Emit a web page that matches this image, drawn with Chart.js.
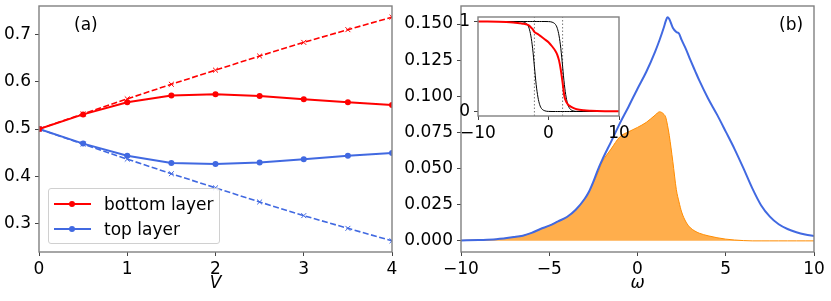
<!DOCTYPE html>
<html>
<head>
<meta charset="utf-8">
<script src="https://cdn.jsdelivr.net/npm/chart.js@4.4.0/dist/chart.umd.min.js"></script>
<style>
  body { margin: 0; background: #fff; width: 831px; height: 301px; overflow: hidden; position: relative; font-family: "DejaVu Sans", sans-serif; }
  canvas { position: absolute; }
  #chartA { left: 0; top: 0; }
  #chartB { left: 405px; top: 0; }
  #inset { left: 455px; top: 10px; }
  .tag { position: absolute; font-size: 17px; line-height: 20px; color: #000; }
  #legendA { position: absolute; left: 48px; top: 188px; width: 170px; height: 54px; border: 1px solid #d0d0d0; border-radius: 3px; background: rgba(255,255,255,0.8); }
  .row { position: absolute; left: 0; height: 24px; width: 170px; }
  .row .line { position: absolute; left: 5px; top: 11px; width: 37px; height: 2px; }
  .row .dot { position: absolute; left: 20px; top: 9px; width: 6px; height: 6px; border-radius: 50%; }
  .row .txt { position: absolute; left: 55px; top: 2px; font-size: 17px; line-height: 20px; }
</style>
</head>
<body>
<canvas id="chartA" width="405" height="301"></canvas>
<canvas id="chartB" width="426" height="301"></canvas>
<canvas id="inset" width="180" height="135"></canvas>
<div class="tag" style="left:74px; top:14px;">(a)</div>
<div class="tag" style="left:779px; top:14px;">(b)</div>
<div id="legendA"></div>
<script>
// (a) occupation vs V
const vValues = [0, 0.5, 1, 1.5, 2, 2.5, 3, 3.5, 4];
const bottomLayer = [0.5, 0.531, 0.557, 0.571, 0.574, 0.570, 0.563, 0.557, 0.551];
const topLayer = [0.5, 0.469, 0.443, 0.428, 0.4255, 0.429, 0.436, 0.443, 0.449];
const bottomRef = [0.5, 0.532, 0.564, 0.595, 0.625, 0.655, 0.684, 0.711, 0.7375];
const topRef = [0.5, 0.468, 0.436, 0.405, 0.375, 0.345, 0.316, 0.289, 0.2625];
const ticksAx = [0, 1, 2, 3, 4];
const ticksAy = [0.3, 0.4, 0.5, 0.6, 0.7];

// (b) spectral functions
const omega = [-10, -9, -8, -7, -6.5, -6, -5.5, -5, -4.5, -4, -3.5, -3, -2.75, -2.5, -2.25, -2,
  -1.5, -1, -0.5, 0, 0.5, 1, 1.25, 1.5, 1.6, 1.7, 1.8, 2, 2.2, 2.35, 2.5, 2.75,
  3, 3.25, 3.5, 4, 4.5, 5, 5.5, 6, 6.5, 7, 7.5, 8, 8.5, 9, 9.5, 10];
const totalDos = [0.0003, 0.0006, 0.0011, 0.0026, 0.0036, 0.0055, 0.0082, 0.0105, 0.0135, 0.0165, 0.0215, 0.029, 0.034, 0.041, 0.049, 0.056,
  0.0685, 0.0813, 0.093, 0.1053, 0.117, 0.131, 0.139, 0.148, 0.152, 0.1548, 0.1535, 0.1475, 0.1445, 0.1435, 0.139, 0.1325,
  0.125, 0.118, 0.111, 0.0985, 0.0875, 0.0756, 0.0635, 0.0503, 0.0365, 0.0247, 0.0168, 0.0115, 0.0082, 0.006, 0.0044, 0.0033];
const occupiedDos = [0.0003, 0.0006, 0.0011, 0.0026, 0.0036, 0.0055, 0.0082, 0.0105, 0.0135, 0.0165, 0.0215, 0.029, 0.034, 0.040, 0.047, 0.0545,
  0.0635, 0.072, 0.0755, 0.0785, 0.082, 0.087, 0.0893, 0.0875, 0.0855, 0.080, 0.073, 0.055, 0.0355, 0.027, 0.020, 0.013,
  0.009, 0.0068, 0.0053, 0.0035, 0.0022, 0.0012, 0.0006, 0.0002, 0, 0, 0, 0, 0, 0, 0, 0];
const ticksBx = [-10, -5, 0, 5, 10];
const ticksBy = [0, 0.025, 0.05, 0.075, 0.1, 0.125, 0.15];

// inset: distribution functions
const omegaIn = [-10, -6, -5, -4, -3.5, -3, -2.75, -2.5, -2.25, -2, -1.75, -1.5, -1.25, -1, -0.5, 0,
  0.5, 1, 1.25, 1.5, 1.75, 2, 2.25, 2.5, 2.75, 3, 3.5, 4, 5, 6, 8, 10];
const redDist = [1, 0.995, 0.99, 0.98, 0.975, 0.965, 0.955, 0.935, 0.915, 0.885, 0.87, 0.86, 0.845, 0.83, 0.80, 0.77,
  0.725, 0.67, 0.63, 0.565, 0.46, 0.32, 0.17, 0.11, 0.08, 0.062, 0.04, 0.026, 0.014, 0.009, 0.004, 0.002];
const leftStep = [1, 1, 1, 1, 0.993, 0.966, 0.924, 0.84, 0.70, 0.5, 0.30, 0.16, 0.076, 0.034, 0.007, 0.001,
  0, 0, 0, 0, 0, 0, 0, 0, 0, 0, 0, 0, 0, 0, 0, 0];
const rightStep = [1, 1, 1, 1, 1, 1, 1, 1, 1, 1, 1, 1, 1, 1, 1, 0.999,
  0.993, 0.966, 0.924, 0.84, 0.70, 0.5, 0.30, 0.16, 0.076, 0.034, 0.007, 0.001, 0, 0, 0, 0];
const stepMarks = [-2, 2];
const ticksInx = [-10, 0, 10];
const ticksIny = [0, 1];

const FONT = 'DejaVu Sans';
const RED = '#ff0000';
const BLUE = '#4169e1';

const pts = (xs, ys) => xs.map((x, i) => ({ x: x, y: ys[i] }));
const minus = v => (v < 0 ? '\u2212' + Math.abs(v) : String(v));

// caja tipo matplotlib alrededor del área
const frame = {
    id: 'frame',
    beforeDatasetsDraw(chart, args, opts) {
        if (!opts.fill) return;
        const a = chart.chartArea;
        chart.ctx.save();
        chart.ctx.fillStyle = opts.fill;
        chart.ctx.fillRect(a.left, a.top, a.right - a.left, a.bottom - a.top);
        chart.ctx.restore();
    },
    afterDatasetsDraw(chart) {
        const { ctx, chartArea: a } = chart;
        ctx.save();
        ctx.strokeStyle = '#808080';
        ctx.lineWidth = 1.4;
        ctx.strokeRect(a.left, a.top, a.right - a.left, a.bottom - a.top);
        ctx.restore();
    }
};

function xAxis(min, max, ticks, fmt, h, title) {
    return {
        type: 'linear', min: min, max: max,
        grid: { drawOnChartArea: false, drawTicks: true, tickLength: 4, tickColor: '#444' },
        border: { display: false },
        ticks: { autoSkip: false, maxRotation: 0, padding: 3, color: '#000', font: { family: FONT, size: 17 }, callback: fmt },
        title: title ? { display: true, text: title, color: '#000', font: { family: FONT, size: 17, style: 'italic' }, padding: { top: 0, bottom: 7 } } : { display: false },
        afterBuildTicks: s => { s.ticks = ticks.map(v => ({ value: v })); },
        afterFit: s => { s.height = h; s.paddingLeft = 0; s.paddingRight = 0; }
    };
}

function yAxis(min, max, ticks, fmt, w) {
    return {
        type: 'linear', min: min, max: max,
        grid: { drawOnChartArea: false, drawTicks: true, tickLength: 4, tickColor: '#444' },
        border: { display: false },
        ticks: { autoSkip: false, padding: 4, color: '#000', font: { family: FONT, size: 17 }, callback: fmt },
        afterBuildTicks: s => { s.ticks = ticks.map(v => ({ value: v })); },
        afterFit: s => { s.width = w; s.paddingTop = 0; s.paddingBottom = 0; }
    };
}

const base = (pad, scales, extra) => ({
    responsive: false,
    animation: false,
    devicePixelRatio: 1,
    layout: { padding: pad },
    plugins: Object.assign({ legend: { display: false }, tooltip: { enabled: false } }, extra || {}),
    scales: scales
});

// Panel (a)
const chartA = new Chart(document.getElementById('chartA'), {
    type: 'line',
    data: {
        datasets: [
            { label: 'bottom layer', data: pts(vValues, bottomLayer), borderColor: RED, backgroundColor: RED, borderWidth: 2, pointRadius: 3, pointBorderWidth: 0, showLegend: true },
            { label: 'top layer', data: pts(vValues, topLayer), borderColor: BLUE, backgroundColor: BLUE, borderWidth: 2, pointRadius: 3, pointBorderWidth: 0, showLegend: true },
            { label: 'bottom ref', data: pts(vValues, bottomRef), borderColor: RED, backgroundColor: RED, borderWidth: 1.6, borderDash: [6, 2.5], pointStyle: 'crossRot', pointRadius: 3.5, pointBorderWidth: 1 },
            { label: 'top ref', data: pts(vValues, topRef), borderColor: BLUE, backgroundColor: BLUE, borderWidth: 1.6, borderDash: [6, 2.5], pointStyle: 'crossRot', pointRadius: 3.5, pointBorderWidth: 1 }
        ]
    },
    options: base({ top: 6, right: 13, left: 0, bottom: 0 }, {
        x: xAxis(0, 4, ticksAx, v => String(v), 49, 'V'),
        y: yAxis(0.23875, 0.76125, ticksAy, v => v.toFixed(1), 39)
    }),
    plugins: [frame]
});

// leyenda dentro del panel (a)
const legendBox = document.getElementById('legendA');
chartA.data.datasets.filter(d => d.showLegend).forEach((d, i) => {
    const row = document.createElement('div');
    row.className = 'row';
    row.style.top = (3 + i * 25) + 'px';
    row.innerHTML = '<div class="line" style="background:' + d.borderColor + '"></div>' +
        '<div class="dot" style="background:' + d.borderColor + '"></div>' +
        '<div class="txt">' + d.label + '</div>';
    legendBox.appendChild(row);
});

// Panel (b)
new Chart(document.getElementById('chartB'), {
    type: 'line',
    data: {
        datasets: [
            { label: 'total', data: pts(omega, totalDos), borderColor: BLUE, borderWidth: 2, pointRadius: 0, cubicInterpolationMode: 'monotone', fill: false },
            { label: 'occupied', data: pts(omega, occupiedDos), borderColor: '#ff8c00', backgroundColor: 'rgba(255,140,0,0.7)', borderWidth: 1, pointRadius: 0, cubicInterpolationMode: 'monotone', fill: 'origin' }
        ]
    },
    options: base({ top: 6, right: 17, left: 0, bottom: 0 }, {
        x: xAxis(-10, 10, ticksBx, minus, 49, '\u03c9'),
        y: yAxis(-0.0077, 0.1625, ticksBy, v => v.toFixed(3), 56)
    }),
    plugins: [frame]
});

// Inset
const insetSets = [
    { label: 'red', data: pts(omegaIn, redDist), borderColor: RED, borderWidth: 2, pointRadius: 0, cubicInterpolationMode: 'monotone' },
    { label: 'step1', data: pts(omegaIn, leftStep), borderColor: '#000', borderWidth: 1, pointRadius: 0, cubicInterpolationMode: 'monotone' },
    { label: 'step2', data: pts(omegaIn, rightStep), borderColor: '#000', borderWidth: 1, pointRadius: 0, cubicInterpolationMode: 'monotone' }
];
stepMarks.forEach(m => {
    insetSets.push({ label: 'mark', data: [{ x: m, y: -0.05 }, { x: m, y: 1.05 }], borderColor: '#777', borderWidth: 1, borderDash: [1.5, 2], pointRadius: 0 });
});
new Chart(document.getElementById('inset'), {
    type: 'line',
    data: { datasets: insetSets },
    options: base({ top: 7, right: 16, left: 0, bottom: 0 }, {
        x: xAxis(-10, 10, ticksInx, minus, 29, null),
        y: yAxis(-0.05, 1.05, ticksIny, v => String(v), 23)
    }, { frame: { fill: '#fff' } }),
    plugins: [frame]
});
</script>
</body>
</html>
